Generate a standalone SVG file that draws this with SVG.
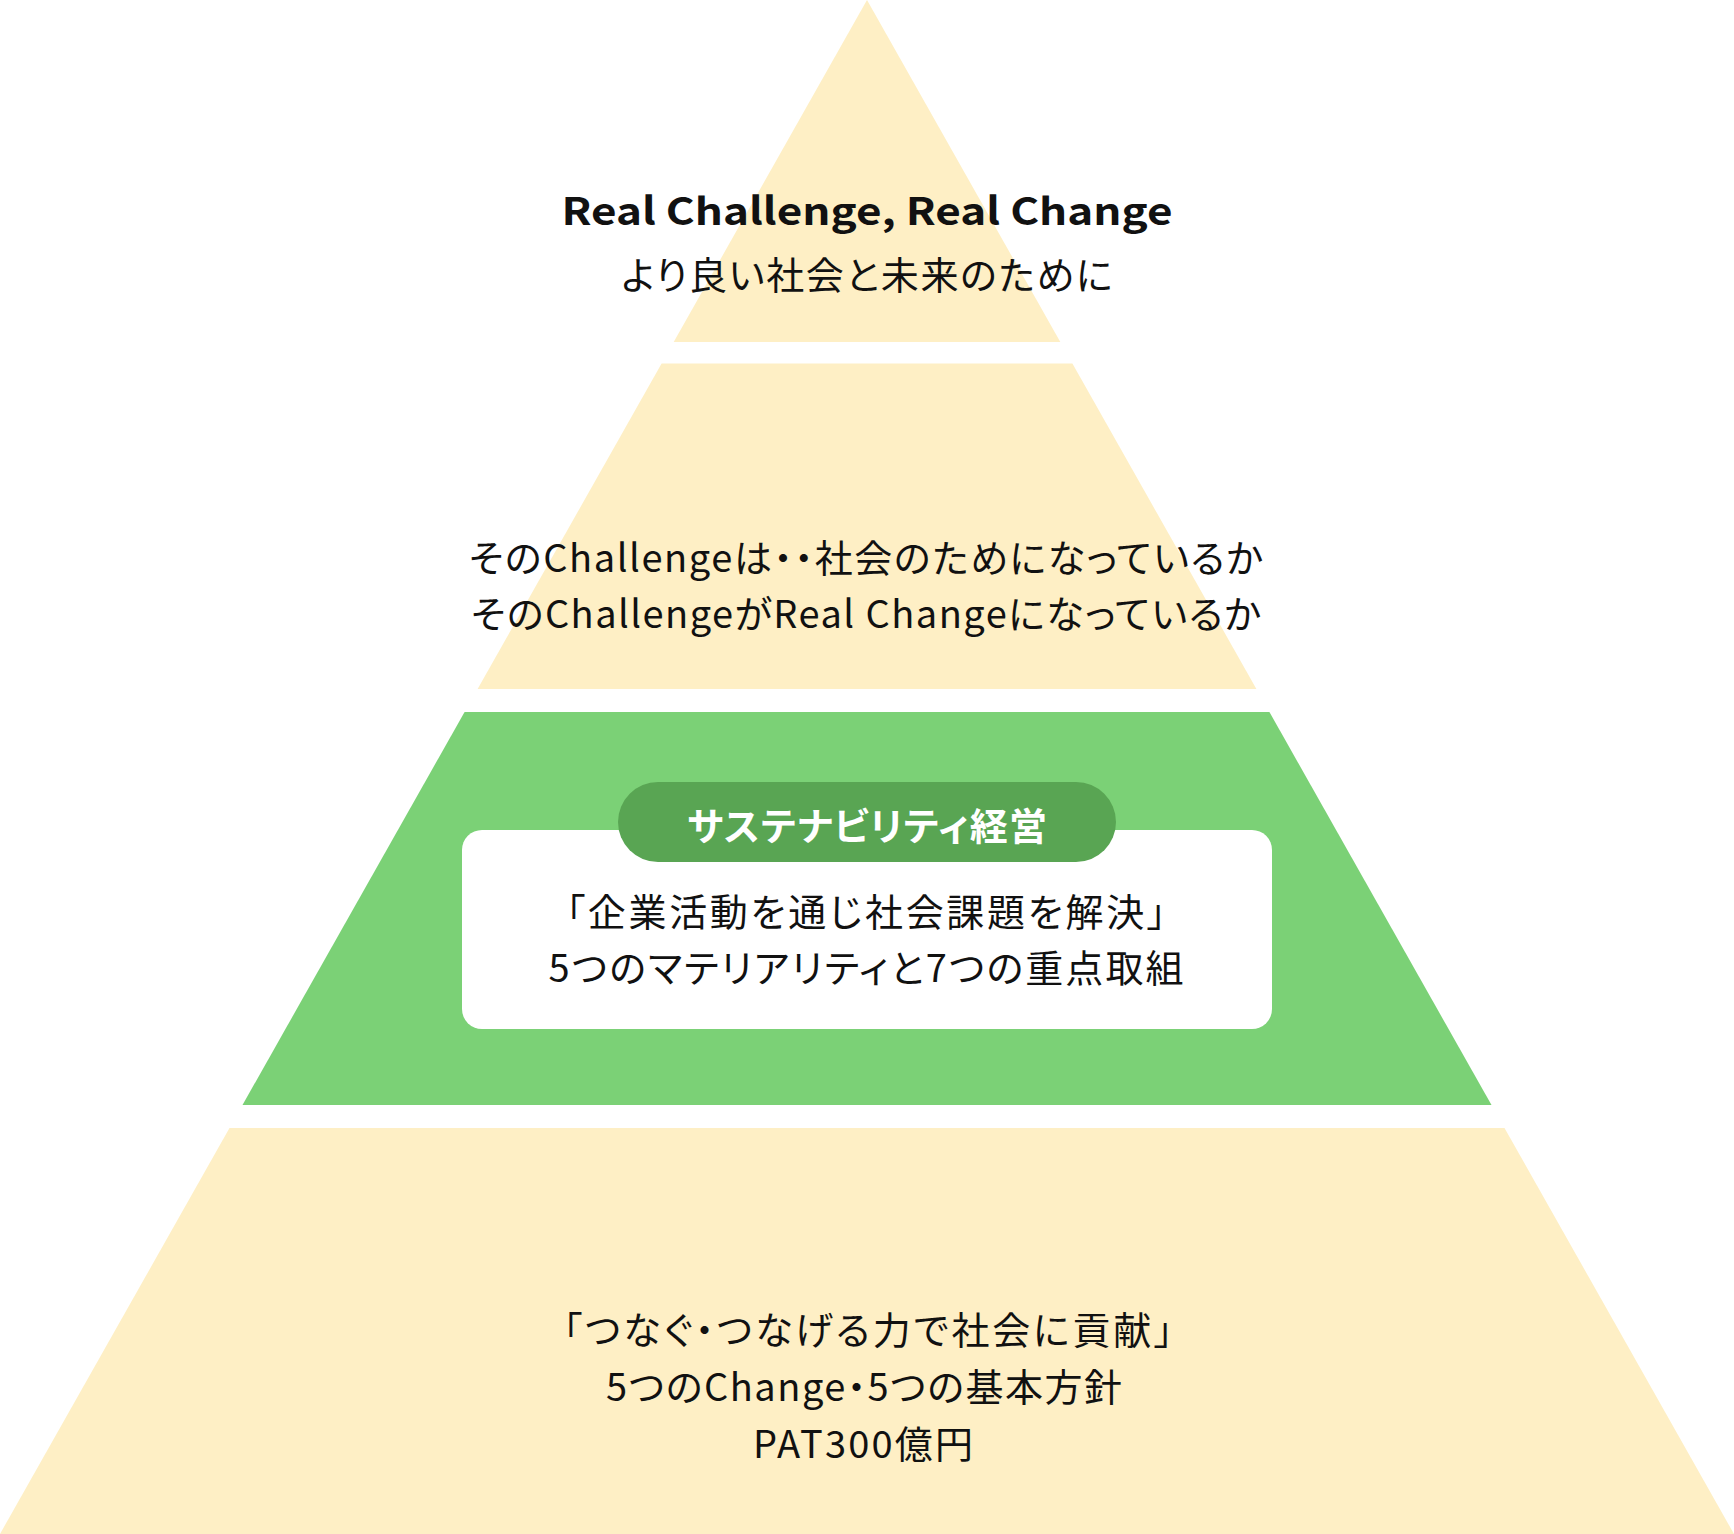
<svg xmlns="http://www.w3.org/2000/svg" width="1734" height="1534" viewBox="0 0 1734 1534">
<style>
.y{fill:#FEEFC5}
.g{fill:#7BD176}
.t{font-family:"Noto Sans CJK JP","Noto Sans",sans-serif;font-size:38px;fill:#111;text-anchor:middle;font-feature-settings:"palt" 1}
.b{font-weight:700}
.w{fill:#FFFFFF}
</style>
<rect width="1734" height="1534" fill="#FFFFFF"/>
<g id="tier1">
<polygon class="y" points="867,0 1060.3,342 673.7,342"/>
<text class="t b" x="867" y="225" font-size="47" textLength="611" lengthAdjust="spacingAndGlyphs">Real Challenge, Real Change</text>
<text class="t" x="867" y="289" textLength="491" lengthAdjust="spacing">より良い社会と未来のために</text>
</g>
<g id="tier2">
<polygon class="y" points="661.6,363.5 1072.4,363.5 1256.4,689 477.6,689"/>
<text class="t" x="866" y="572" textLength="794" lengthAdjust="spacing">そのChallengeは・・社会のためになっているか</text>
<text class="t" x="866" y="628" textLength="790" lengthAdjust="spacing">そのChallengeがReal Changeになっているか</text>
</g>
<g id="tier3">
<polygon class="g" points="464.6,712 1269.4,712 1491.5,1105 242.5,1105"/>
<rect class="w" x="462" y="830" width="810" height="199" rx="20"/>
<g id="pill">
<rect x="618" y="782" width="498" height="80" rx="40" fill="#59A553"/>
<text class="t b w" x="867" y="840" font-size="39" textLength="360" lengthAdjust="spacing">サステナビリティ経営</text>
</g>
<text class="t" x="866" y="926" font-size="40" textLength="600" lengthAdjust="spacing">「企業活動を通じ社会課題を解決」</text>
<text class="t" x="866" y="982" font-size="40" textLength="635" lengthAdjust="spacing">5つのマテリアリティと7つの重点取組</text>
</g>
<g id="tier4">
<polygon class="y" points="229.5,1128 1504.5,1128 1734,1534 0,1534"/>
<text class="t" x="868" y="1344" textLength="610" lengthAdjust="spacing">「つなぐ・つなげる力で社会に貢献」</text>
<text class="t" x="864" y="1401" textLength="516" lengthAdjust="spacing">5つのChange・5つの基本方針</text>
<text class="t" x="863" y="1458" textLength="220" lengthAdjust="spacing">PAT300億円</text>
</g>
<g id="connectors"/>
</svg>
